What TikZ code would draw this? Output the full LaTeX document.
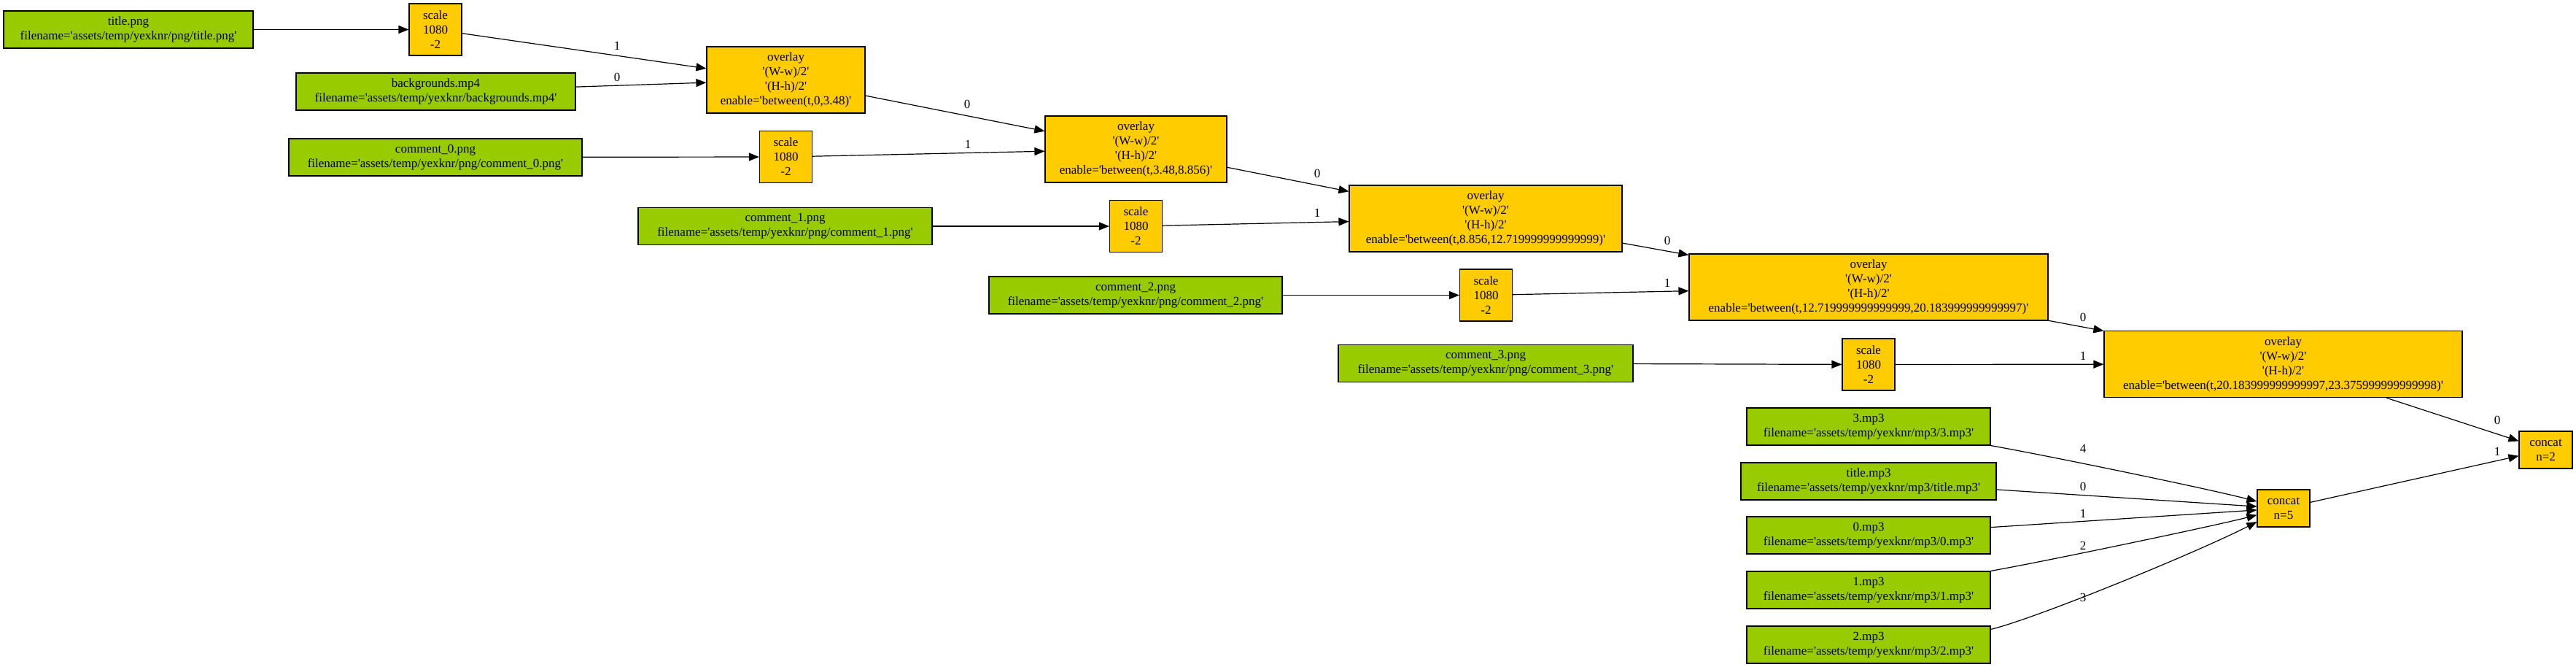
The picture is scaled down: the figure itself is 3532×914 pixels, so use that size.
\documentclass[tikz,border=0pt]{standalone}
\usepackage{fontspec}
\newfontfamily\gv{Liberation Serif}
\usetikzlibrary{arrows.meta}
\definecolor{srcgreen}{HTML}{99CC00}
\definecolor{opgold}{HTML}{FFCC00}
\begin{document}
\begin{tikzpicture}[x=0.5pt,y=-0.5pt,
  every node/.style={font=\gv\fontsize{8.5pt}{10pt}\selectfont},
  box/.style={draw=black, line width=0.6pt, inner sep=0pt, align=center, minimum height=25.5pt},
  src/.style={box, fill=srcgreen},
  op/.style={box, fill=opgold},
  scl/.style={op, minimum width=36pt, minimum height=35.5pt},
  ovl/.style={op, minimum height=45.5pt},
  edge/.style={draw=black, line width=0.6pt, -{Triangle[length=7pt,width=5.5pt]}},
  lbl/.style={inner sep=0pt}]
\useasboundingbox[fill=white] (0,0) rectangle (3532,914);
% sources
\node[src, minimum width=171pt] (tp) at (176,40.5) {title.png\\filename='assets/temp/yexknr/png/title.png'};
\node[src, minimum width=191.5pt] (bg) at (597.5,125.5) {backgrounds.mp4\\filename='assets/temp/yexknr/backgrounds.mp4'};
\node[src, minimum width=201pt] (c0) at (597,215.5) {comment\_0.png\\filename='assets/temp/yexknr/png/comment\_0.png'};
\node[src, minimum width=201.5pt] (c1) at (1076.5,310) {comment\_1.png\\filename='assets/temp/yexknr/png/comment\_1.png'};
\node[src, minimum width=201pt] (c2) at (1557,404.5) {comment\_2.png\\filename='assets/temp/yexknr/png/comment\_2.png'};
\node[src, minimum width=202pt] (c3) at (2037,498) {comment\_3.png\\filename='assets/temp/yexknr/png/comment\_3.png'};
\node[src, minimum width=167pt] (m3) at (2562,584.5) {3.mp3\\filename='assets/temp/yexknr/mp3/3.mp3'};
\node[src, minimum width=175pt] (mt) at (2562,659.5) {title.mp3\\filename='assets/temp/yexknr/mp3/title.mp3'};
\node[src, minimum width=167pt] (m0) at (2562,733.5) {0.mp3\\filename='assets/temp/yexknr/mp3/0.mp3'};
\node[src, minimum width=167pt] (m1) at (2562,808.5) {1.mp3\\filename='assets/temp/yexknr/mp3/1.mp3'};
\node[src, minimum width=167pt] (m2) at (2562,883.5) {2.mp3\\filename='assets/temp/yexknr/mp3/2.mp3'};
% scales
\node[scl] (st) at (597,40.5) {scale\\1080\\-2};
\node[scl] (s0) at (1077.5,215) {scale\\1080\\-2};
\node[scl] (s1) at (1557.5,310) {scale\\1080\\-2};
\node[scl] (s2) at (2037.5,404.5) {scale\\1080\\-2};
\node[scl] (s3) at (2562,499.5) {scale\\1080\\-2};
% overlays
\node[ovl, minimum width=108.5pt] (o1) at (1077.5,109.5) {overlay\\'(W-w)/2'\\'(H-h)/2'\\enable='between(t,0,3.48)'};
\node[ovl, minimum width=124.5pt] (o2) at (1557.5,204.5) {overlay\\'(W-w)/2'\\'(H-h)/2'\\enable='between(t,3.48,8.856)'};
\node[ovl, minimum width=187pt] (o3) at (2037,299.5) {overlay\\'(W-w)/2'\\'(H-h)/2'\\enable='between(t,8.856,12.719999999999999)'};
\node[ovl, minimum width=246pt] (o4) at (2562,393.5) {overlay\\'(W-w)/2'\\'(H-h)/2'\\enable='between(t,12.719999999999999,20.183999999999997)'};
\node[ovl, minimum width=245.5pt] (o5) at (3130.5,499) {overlay\\'(W-w)/2'\\'(H-h)/2'\\enable='between(t,20.183999999999997,23.375999999999998)'};
% concats
\node[op, minimum width=36pt] (k5) at (3131,696.5) {concat\\n=5};
\node[op, minimum width=36.5pt] (k2) at (3490.5,616.5) {concat\\n=2};
% edges
\draw[edge] (tp) -- (st);
\draw[edge] (st) -- (o1) node[lbl, at={(846,63)}] {1};
\draw[edge] (bg) -- (o1) node[lbl, at={(846,106)}] {0};
\draw[edge] (c0) -- (s0);
\draw[edge] (o1) -- (o2) node[lbl, at={(1326,143)}] {0};
\draw[edge] (s0) -- (o2) node[lbl, at={(1327,198)}] {1};
\draw[edge] (c1) -- (s1);
\draw[edge] (o2) -- (o3) node[lbl, at={(1806,238)}] {0};
\draw[edge] (s1) -- (o3) node[lbl, at={(1806,292)}] {1};
\draw[edge] (c2) -- (s2);
\draw[edge] (o3) -- (o4) node[lbl, at={(2286,330)}] {0};
\draw[edge] (s2) -- (o4) node[lbl, at={(2286,388)}] {1};
\draw[edge] (c3) -- (s3);
\draw[edge] (o4) -- (o5) node[lbl, at={(2856,435)}] {0};
\draw[edge] (s3) -- (o5) node[lbl, at={(2856,488)}] {1};
\draw[edge] (o5) -- (k2) node[lbl, at={(3424,576)}] {0};
\draw[edge] (k5) -- (k2) node[lbl, at={(3424,619)}] {1};
\draw[edge] (m3.south east) .. controls (2800,623) and (3020,668) .. (k5) node[lbl, at={(2856,615)}] {4};
\draw[edge] (mt) -- (k5) node[lbl, at={(2856,667)}] {0};
\draw[edge] (m0) -- (k5) node[lbl, at={(2856,704)}] {1};
\draw[edge] (m1.north east) .. controls (2800,770) and (3030,722) .. (k5) node[lbl, at={(2856,748)}] {2};
\draw[edge] ([yshift=-2.5pt]m2.north east) .. controls (2790,848) and (3010,758) .. (k5) node[lbl, at={(2856,819)}] {3};
\end{tikzpicture}
\end{document}
